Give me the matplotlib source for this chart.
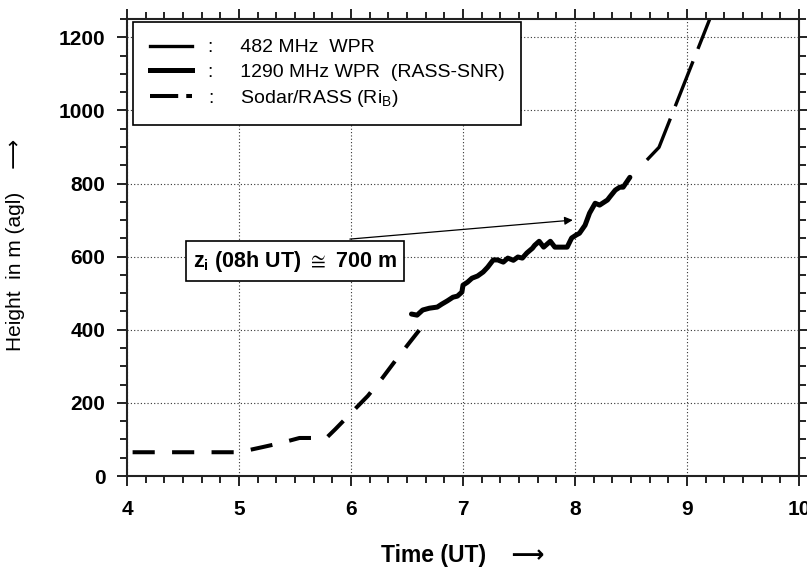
import matplotlib
matplotlib.use("Agg")
import matplotlib.pyplot as plt
from matplotlib.lines import Line2D
from matplotlib.ticker import MultipleLocator

plt.rcParams['font.family'] = ['Liberation Sans', 'DejaVu Sans']
plt.rcParams['mathtext.fontset'] = 'custom'
plt.rcParams['mathtext.rm'] = 'Liberation Sans'
plt.rcParams['mathtext.bf'] = 'Liberation Sans:bold'
plt.rcParams['mathtext.fallback'] = 'stixsans'

# Sodar/RASS (Ri_B) boundary layer height
sodar_t = [4.05, 5.0, 5.21, 5.37, 5.54, 5.68, 5.78, 5.86, 6.0, 6.15, 6.28, 6.40, 6.52, 6.61]
sodar_h = [65, 65, 79, 90, 104, 104, 104, 128, 172, 219, 268, 317, 364, 399]

# 1290 MHz WPR (RASS-SNR)
wpr1290_t = [6.54, 6.59, 6.64, 6.70, 6.77, 6.81, 6.86, 6.91, 6.95, 6.99, 7.00, 7.04,
             7.08, 7.13, 7.18, 7.22, 7.27, 7.31, 7.36, 7.40, 7.45, 7.49, 7.53, 7.57,
             7.62, 7.64, 7.68, 7.72, 7.78, 7.82, 7.87, 7.93, 7.97, 8.01, 8.04, 8.09,
             8.13, 8.18, 8.22, 8.29, 8.31, 8.36, 8.40, 8.43, 8.49]
wpr1290_h = [443, 440, 454, 459, 462, 470, 479, 489, 492, 503, 522, 530,
             541, 547, 558, 571, 591, 591, 585, 596, 590, 599, 596, 610,
             623, 631, 642, 626, 642, 626, 626, 626, 651, 659, 664, 686,
             719, 746, 741, 755, 763, 782, 790, 790, 817]

# 482 MHz WPR
wpr482_t = [8.56, 8.75, 9.30]
wpr482_h = [838, 899, 1325]

xticks = [4, 5, 6, 7, 8, 9, 10]
yticks = [0, 200, 400, 600, 800, 1000, 1200]

fig = plt.figure(figsize=(8.07, 5.71), dpi=100)
ax = fig.add_axes([127 / 807, 1 - 476 / 571, 672 / 807, 457 / 571])

ax.plot(sodar_t, sodar_h, color='black', lw=2.9, linestyle=(0, (5.5, 4.3)),
        solid_capstyle='butt')
ax.plot(wpr1290_t, wpr1290_h, color='black', lw=3.6, solid_joinstyle='round',
        solid_capstyle='round')
ax.plot(wpr482_t, wpr482_h, color='black', lw=2.4, linestyle=(14.5, (14.5, 4.0)))

ax.set_xlim(4, 10)
ax.set_ylim(0, 1250)
ax.set_xticks(xticks)
ax.set_yticks(yticks)
ax.xaxis.set_minor_locator(MultipleLocator(1 / 6))
ax.yaxis.set_minor_locator(MultipleLocator(50))
ax.grid(True, which='major', linestyle=(0, (1, 2)), color='#333333', lw=0.8)

ax.tick_params(which='both', direction='out', top=True, right=True, width=1.4,
               color='#222222')
ax.tick_params(which='major', length=7.5, labelsize=15, pad=8)
ax.tick_params(axis='x', which='major', pad=10)
ax.tick_params(which='minor', length=5)
for lab in ax.get_xticklabels() + ax.get_yticklabels():
    lab.set_fontweight('bold')
for sp in ax.spines.values():
    sp.set_linewidth(1.5)
    sp.set_color('#222222')

ax.set_ylabel('Height  in m (agl)    \u27f6', fontsize=15)
ax.yaxis.set_label_coords(-0.152, 0.505)
ax.set_xlabel('Time (UT)    \u27f6', fontsize=16.5, fontweight='bold', va='center')
ax.xaxis.set_label_coords(0.5, -0.175)

handles = [
    Line2D([], [], color='black', lw=2.4),
    Line2D([], [], color='black', lw=3.6),
    Line2D([], [], color='black', lw=2.9, linestyle=(0, (7, 2, 1.8, 2))),
]
labels = [':     482 MHz  WPR',
          ':     1290 MHz WPR  (RASS-SNR)',
          ':     Sodar/RASS (Ri$_\\mathrm{B}$)']
leg = ax.legend(handles, labels, loc='upper left', bbox_to_anchor=(0.009, 0.993),
                fontsize=14, frameon=True, fancybox=False, edgecolor='black',
                handlelength=2.2, handletextpad=0.8, labelspacing=0.35,
                borderpad=0.85, borderaxespad=0)
leg.get_frame().set_linewidth(1.2)
leg.get_frame().set_alpha(1)

ax.annotate('', xy=(7.98, 700), xytext=(5.99, 648),
            arrowprops=dict(arrowstyle='-|>', lw=0.9, color='black', mutation_scale=12,
                            shrinkA=0, shrinkB=0))
ax.text(5.5, 588, '$\\mathbf{z_i}$ (08h UT) $\\cong$ 700 m', fontsize=15.5,
        fontweight='bold', ha='center', va='center', zorder=5,
        bbox=dict(boxstyle='square,pad=0.33', fc='white', ec='black', lw=1.2))

fig.savefig('out.png', dpi=100)
